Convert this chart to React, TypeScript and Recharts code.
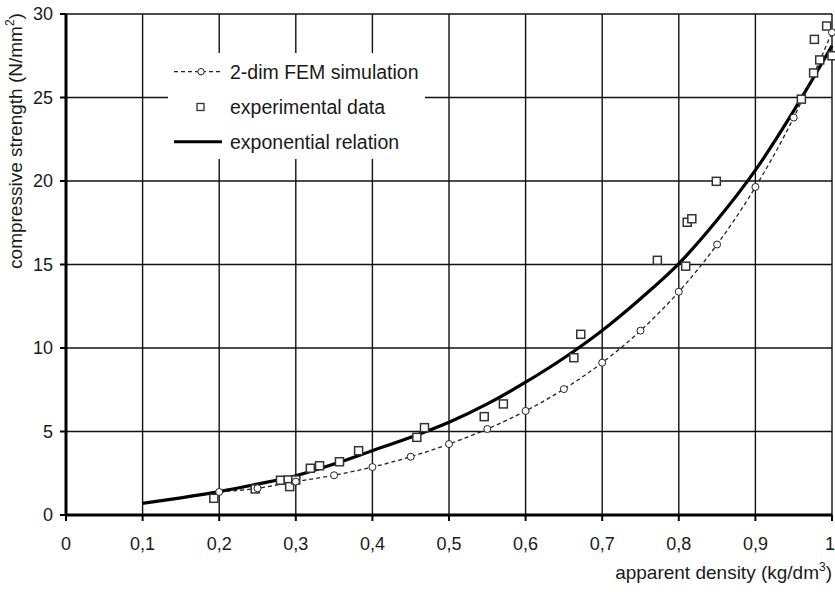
import React from 'react';
import { ComposedChart, Line, Scatter, XAxis, YAxis, CartesianGrid, Legend } from 'recharts';

const FONT = '"Liberation Sans", Arial, sans-serif';

// 2-dim FEM simulation
const femX = [0.2, 0.25, 0.3, 0.35, 0.4, 0.45, 0.5, 0.55, 0.6, 0.65, 0.7, 0.75, 0.8, 0.85, 0.9, 0.95, 1.0];
const femY = [1.38, 1.6, 2.0, 2.38, 2.87, 3.49, 4.25, 5.15, 6.23, 7.54, 9.12, 11.04, 13.37, 16.2, 19.64, 23.8, 28.9];

// experimental data
const expX = [0.193, 0.247, 0.28, 0.29, 0.292, 0.3, 0.319, 0.331, 0.357, 0.382, 0.458, 0.468, 0.546, 0.571, 0.663, 0.672, 0.772, 0.809, 0.811, 0.817, 0.849, 0.96, 0.976, 0.984, 0.977, 0.993, 1.0];
const expY = [1.0, 1.56, 2.08, 2.1, 1.7, 2.1, 2.8, 2.95, 3.19, 3.85, 4.65, 5.23, 5.89, 6.65, 9.42, 10.82, 15.25, 14.9, 17.53, 17.74, 19.98, 24.9, 26.47, 27.25, 28.48, 29.28, 27.5];

// exponential relation
const relX = [0.1, 0.15, 0.2, 0.25, 0.3, 0.35, 0.4, 0.45, 0.5, 0.55, 0.6, 0.65, 0.7, 0.75, 0.8, 0.85, 0.9, 0.95, 1.0];
const relY = [0.7, 1.03, 1.4, 1.85, 2.35, 3.05, 3.85, 4.65, 5.55, 6.65, 7.95, 9.4, 11.05, 12.95, 15.05, 17.66, 20.65, 24.2, 28.1];

const xTicks = [0, 0.1, 0.2, 0.3, 0.4, 0.5, 0.6, 0.7, 0.8, 0.9, 1];
const yTicks = [0, 5, 10, 15, 20, 25, 30];

const femData = femX.map((x, i) => ({ x, y: femY[i] }));
const expData = expX.map((x, i) => ({ x, y: expY[i] }));
const relData = relX.map((x, i) => ({ x, y: relY[i] }));

const Square = (props: any) => {
  const { cx, cy } = props;
  if (cx == null || cy == null) return null;
  return <rect x={cx - 4} y={cy - 4} width={8} height={8} fill="#fff" stroke="#333" strokeWidth={1.5} />;
};

const XTick = (props: any) => {
  const { x, y, payload } = props;
  const v = payload.value as number;
  const last = v === 1;
  return (
    <text
      x={last ? x + 3 : x}
      y={y}
      dy="0.71em"
      textAnchor={last ? 'end' : 'middle'}
      fontSize={18}
      fontFamily={FONT}
      fill="#1a1a1a"
    >
      {String(v).replace('.', ',')}
    </text>
  );
};

const LegendBox = () => (
  <svg width={257} height={106} style={{ display: 'block', background: '#fff' }}>
    <line x1={6} x2={54} y1={18.7} y2={18.7} stroke="#222" strokeWidth={1.2} strokeDasharray="4 3" />
    <circle cx={33} cy={18.7} r={3.2} fill="#fff" stroke="#222" strokeWidth={1} />
    <text x={62} y={26} fontSize={19.5} fontFamily={FONT} fill="#1a1a1a">2-dim FEM simulation</text>
    <rect x={29} y={50.5} width={7} height={7} fill="#fff" stroke="#333" strokeWidth={1.3} />
    <text x={62} y={60.5} fontSize={19.5} fontFamily={FONT} fill="#1a1a1a">experimental data</text>
    <line x1={6} x2={54} y1={88.7} y2={88.7} stroke="#000" strokeWidth={3} />
    <text x={62} y={95.5} fontSize={19.5} fontFamily={FONT} fill="#1a1a1a">exponential relation</text>
  </svg>
);

const XTitle = (props: any) => {
  const vb = props.viewBox || {};
  const right = (vb.x || 0) + (vb.width || 0);
  return (
    <text x={right} y={579} textAnchor="end" fontSize={19} fontFamily={FONT} fill="#1a1a1a">
      apparent density (kg/dm<tspan dy={-8} fontSize={12}>3</tspan><tspan dy={8}>)</tspan>
    </text>
  );
};

const YTitle = () => (
  <text x={22} y={141} transform="rotate(-90 22 141)" textAnchor="middle" fontSize={19} fontFamily={FONT} fill="#1a1a1a">
    compressive strength (N/mm<tspan dy={-8} fontSize={12}>2</tspan><tspan dy={8}>)</tspan>
  </text>
);

export default function App() {
  return (
    <div style={{ position: 'absolute', left: 0, top: 0, background: '#fff' }}>
      <ComposedChart width={835} height={592} margin={{ top: 14, right: 3, left: 0, bottom: 0 }}>
        <CartesianGrid stroke="#111" strokeWidth={1.4} />
        <XAxis
          type="number"
          dataKey="x"
          domain={[0, 1]}
          ticks={xTicks}
          interval={0}
          height={77}
          axisLine={{ stroke: '#000', strokeWidth: 3 }}
          tickLine={{ stroke: '#000', strokeWidth: 2 }}
          tickSize={6}
          tickMargin={16}
          tick={<XTick />}
          label={<XTitle />}
        />
        <YAxis
          type="number"
          domain={[0, 30]}
          ticks={yTicks}
          interval={0}
          width={66}
          axisLine={{ stroke: '#000', strokeWidth: 3 }}
          tickLine={{ stroke: '#000', strokeWidth: 2 }}
          tickSize={6}
          tickMargin={7}
          tick={{ fill: '#1a1a1a', fontSize: 18, fontFamily: FONT }}
          label={<YTitle />}
        />
        <Line
          data={relData}
          dataKey="y"
          type="monotone"
          stroke="#000"
          strokeWidth={3.2}
          dot={false}
          activeDot={false}
          isAnimationActive={false}
          legendType="line"
          name="exponential relation"
        />
        <Line
          data={femData}
          dataKey="y"
          type="monotone"
          stroke="#222"
          strokeWidth={1.3}
          strokeDasharray="4 3"
          dot={{ r: 3.5, fill: '#fff', stroke: '#222', strokeWidth: 1, strokeDasharray: '' }}
          activeDot={false}
          isAnimationActive={false}
          name="2-dim FEM simulation"
        />
        <Scatter
          data={expData}
          dataKey="y"
          shape={<Square />}
          isAnimationActive={false}
          name="experimental data"
        />
        <Legend
          layout="horizontal"
          verticalAlign="middle"
          align="center"
          content={<LegendBox />}
          wrapperStyle={{ position: 'absolute', left: 168, top: 53, width: 257, height: 106, margin: 0, padding: 0 }}
        />
      </ComposedChart>
    </div>
  );
}
